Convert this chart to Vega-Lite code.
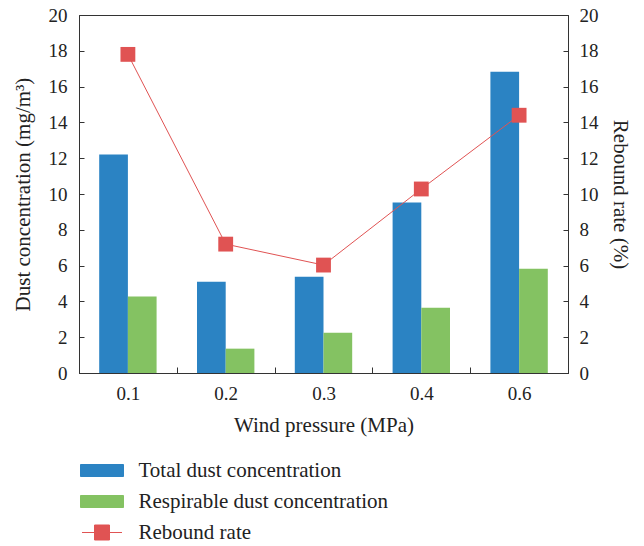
{
  "$schema": "https://vega.github.io/schema/vega-lite/v6.json",
  "width": 489,
  "height": 358,
  "autosize": {"type": "none"},
  "padding": {"left": 79, "top": 15, "right": 76, "bottom": 173},
  "config": {
    "font": "Liberation Serif",
    "view": {"stroke": "#333", "strokeWidth": 1},
    "axis": {
      "labelFont": "Liberation Serif",
      "titleFont": "Liberation Serif",
      "labelFontSize": 19,
      "titleFontSize": 21,
      "titleFontWeight": "normal",
      "labelColor": "#222",
      "titleColor": "#222",
      "domainColor": "#333",
      "tickColor": "#333",
      "labelOverlap": false,
      "grid": false
    },
    "legend": {
      "labelFont": "Liberation Serif",
      "labelFontSize": 21,
      "labelColor": "#222",
      "labelLimit": 0
    }
  },
  "datasets": {
    "dust": [
      {"pressure": "0.1", "series": "Total dust concentration", "value": 12.2},
      {"pressure": "0.1", "series": "Respirable dust concentration", "value": 4.27},
      {"pressure": "0.2", "series": "Total dust concentration", "value": 5.1},
      {"pressure": "0.2", "series": "Respirable dust concentration", "value": 1.36},
      {"pressure": "0.3", "series": "Total dust concentration", "value": 5.38},
      {"pressure": "0.3", "series": "Respirable dust concentration", "value": 2.25},
      {"pressure": "0.4", "series": "Total dust concentration", "value": 9.52},
      {"pressure": "0.4", "series": "Respirable dust concentration", "value": 3.65},
      {"pressure": "0.6", "series": "Total dust concentration", "value": 16.83},
      {"pressure": "0.6", "series": "Respirable dust concentration", "value": 5.82}
    ],
    "rebound": [
      {"pressure": "0.1", "series": "Rebound rate", "rate": 17.8},
      {"pressure": "0.2", "series": "Rebound rate", "rate": 7.2},
      {"pressure": "0.3", "series": "Rebound rate", "rate": 6.03},
      {"pressure": "0.4", "series": "Rebound rate", "rate": 10.28},
      {"pressure": "0.6", "series": "Rebound rate", "rate": 14.4}
    ]
  },
  "encoding": {
    "x": {
      "field": "pressure",
      "type": "nominal",
      "sort": ["0.1", "0.2", "0.3", "0.4", "0.6"],
      "scale": {"paddingInner": 0, "paddingOuter": 0},
      "axis": {
        "title": "Wind pressure (MPa)",
        "labelAngle": 0,
        "tickBand": "extent",
        "tickSize": -6,
        "labelPadding": 17,
        "titlePadding": 11
      }
    }
  },
  "layer": [
    {
      "data": {"name": "dust"},
      "mark": {"type": "bar"},
      "encoding": {
        "xOffset": {
          "field": "series",
          "type": "nominal",
          "sort": ["Total dust concentration", "Respirable dust concentration"],
          "scale": {"paddingInner": 0, "paddingOuter": 0.704}
        },
        "y": {
          "field": "value",
          "type": "quantitative",
          "scale": {"domain": [0, 20], "nice": false},
          "axis": {
            "title": "Dust concentration (mg/m³)",
            "values": [0, 2, 4, 6, 8, 10, 12, 14, 16, 18, 20],
            "tickSize": -5,
            "labelPadding": 17,
            "titlePadding": 15
          }
        },
        "color": {
          "field": "series",
          "type": "nominal",
          "scale": {
            "domain": ["Total dust concentration", "Respirable dust concentration", "Rebound rate"],
            "range": ["#2B83C3", "#84C262", "#E05353"]
          },
          "legend": {
            "title": null,
            "orient": "none",
            "legendX": 12.5,
            "legendY": 445,
            "padding": 0,
            "symbolSize": 400,
            "labelOffset": 26,
            "rowPadding": 9,
            "symbolStrokeWidth": 1,
            "encode": {
              "symbols": {
                "update": {
                  "shape": {"signal": "datum.value === 'Rebound rate' ? 'M-2,0H2M-0.75,-0.75H0.75V0.75H-0.75Z' : 'M-2.15,-0.6H2.15V0.6H-2.15Z'"},
                  "fill": {"signal": "datum.value === 'Rebound rate' ? '#E05353' : (datum.value === 'Total dust concentration' ? '#2B83C3' : '#84C262')"},
                  "stroke": {"signal": "datum.value === 'Rebound rate' ? '#E8504F' : (datum.value === 'Total dust concentration' ? '#2B83C3' : '#84C262')"},
                  "strokeWidth": {"value": 1},
                  "opacity": {"value": 1}
                }
              }
            }
          }
        }
      }
    },
    {
      "data": {"name": "rebound"},
      "mark": {"type": "line", "strokeWidth": 1, "point": {"filled": true, "shape": "square", "size": 220, "opacity": 1}},
      "encoding": {
        "y": {
          "field": "rate",
          "type": "quantitative",
          "scale": {"domain": [0, 20], "nice": false},
          "axis": {
            "title": "Rebound rate (%)",
            "orient": "right",
            "values": [0, 2, 4, 6, 8, 10, 12, 14, 16, 18, 20],
            "tickSize": -5,
            "labelPadding": 16,
            "titlePadding": 11
          }
        },
        "color": {"field": "series", "type": "nominal"}
      }
    }
  ],
  "resolve": {"scale": {"y": "independent"}}
}
